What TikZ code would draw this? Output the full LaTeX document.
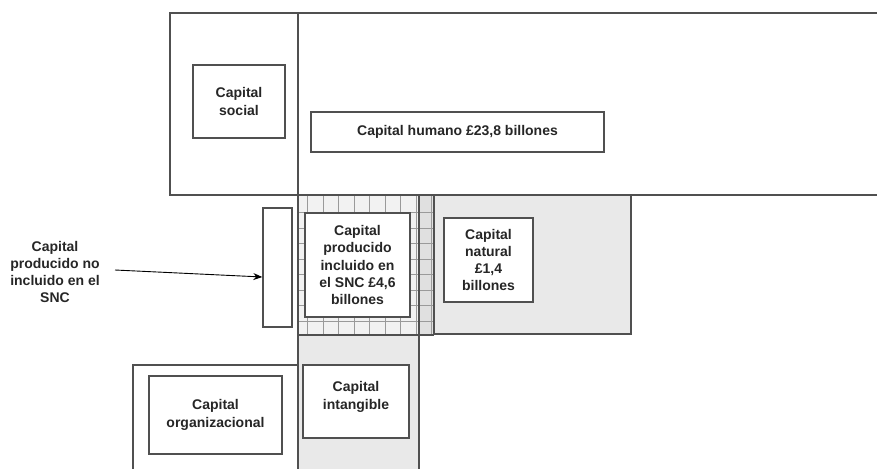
\documentclass[tikz,border=0pt]{standalone}
\usepackage{fontspec}
\setmainfont{Liberation Sans}
\usetikzlibrary{arrows.meta}
\definecolor{edge}{HTML}{505050}
\definecolor{txt}{HTML}{262626}
\definecolor{lightfill}{HTML}{E9E9E9}
\definecolor{gridln}{HTML}{9A9A9A}
\tikzset{
  frame/.style={draw=edge, line width=1.5pt},
  capbox/.style={draw=edge, line width=1.4pt, fill=white, inner sep=0pt, align=center,
    text=txt, font=\fontsize{14}{17.3}\selectfont\bfseries},
  plain/.style={align=center, text=txt, font=\fontsize{14}{17.3}\selectfont\bfseries},
  pointer/.style={draw=black, line width=0.9pt, -{Stealth[length=9pt,width=7pt]}}
}
\begin{document}
\begin{tikzpicture}[x=1pt,y=-1pt]
\useasboundingbox (0,0) rectangle (877,468);
% filled areas
\fill[lightfill] (434,195) rectangle (631,334);
\fill[lightfill] (298,335) rectangle (419,470);
\fill[white!95!black] (298,195) rectangle (419,335);
\fill[white!88!black] (419,195) rectangle (434,335);
% grid
\foreach \gx in {307.5,323,338.5,354,369.5,385,400.5,416,431.5}
  \draw[gridln, line width=0.8pt] (\gx,195) -- (\gx,335);
\foreach \gy in {212.5,228,243.5,259,274.5,290,305.5,321}
  \draw[gridln, line width=0.8pt] (298,\gy) -- (434,\gy);
% frames
\draw[frame] (880,13) -- (170,13) -- (170,195) -- (880,195);
\draw[frame] (298,13) -- (298,470);
\draw[frame] (419,195) -- (419,470);
\draw[frame] (298,335) -- (434,335);
\draw[frame] (434,195) -- (434,334) -- (631,334) -- (631,195);
\draw[frame] (133,470) -- (133,365) -- (298,365);
% boxes
\node[capbox, minimum width=92pt, minimum height=73pt] (social) at (239,101.5) {Capital\\social};
\node[capbox, minimum width=293pt, minimum height=40pt] (humano) at (457.5,132) {Capital humano £23,8 billones};
\node[capbox, minimum width=105pt, minimum height=104pt] (producido) at (357.5,265) {Capital\\producido\\incluido en\\el SNC £4,6\\billones};
\node[capbox, minimum width=89pt, minimum height=84pt] (natural) at (488.5,260) {Capital\\natural\\£1,4\\billones};
\node[capbox, minimum width=29pt, minimum height=119pt] (nosnc) at (277.5,267.5) {};
\node[capbox, minimum width=106pt, minimum height=73pt, text depth=12pt] (intangible) at (356,401.5) {Capital\\intangible};
\node[capbox, minimum width=133pt, minimum height=78pt] (organizacional) at (215.5,415) {Capital\\organizacional};
% label and arrow
\node[plain] (lbl) at (55,272) {Capital\\producido no\\incluido en el\\SNC};
\coordinate (arrowstart) at (115,270);
\draw[pointer] (arrowstart) -- ([yshift=-9.5pt]nosnc.west);
\end{tikzpicture}
\end{document}
